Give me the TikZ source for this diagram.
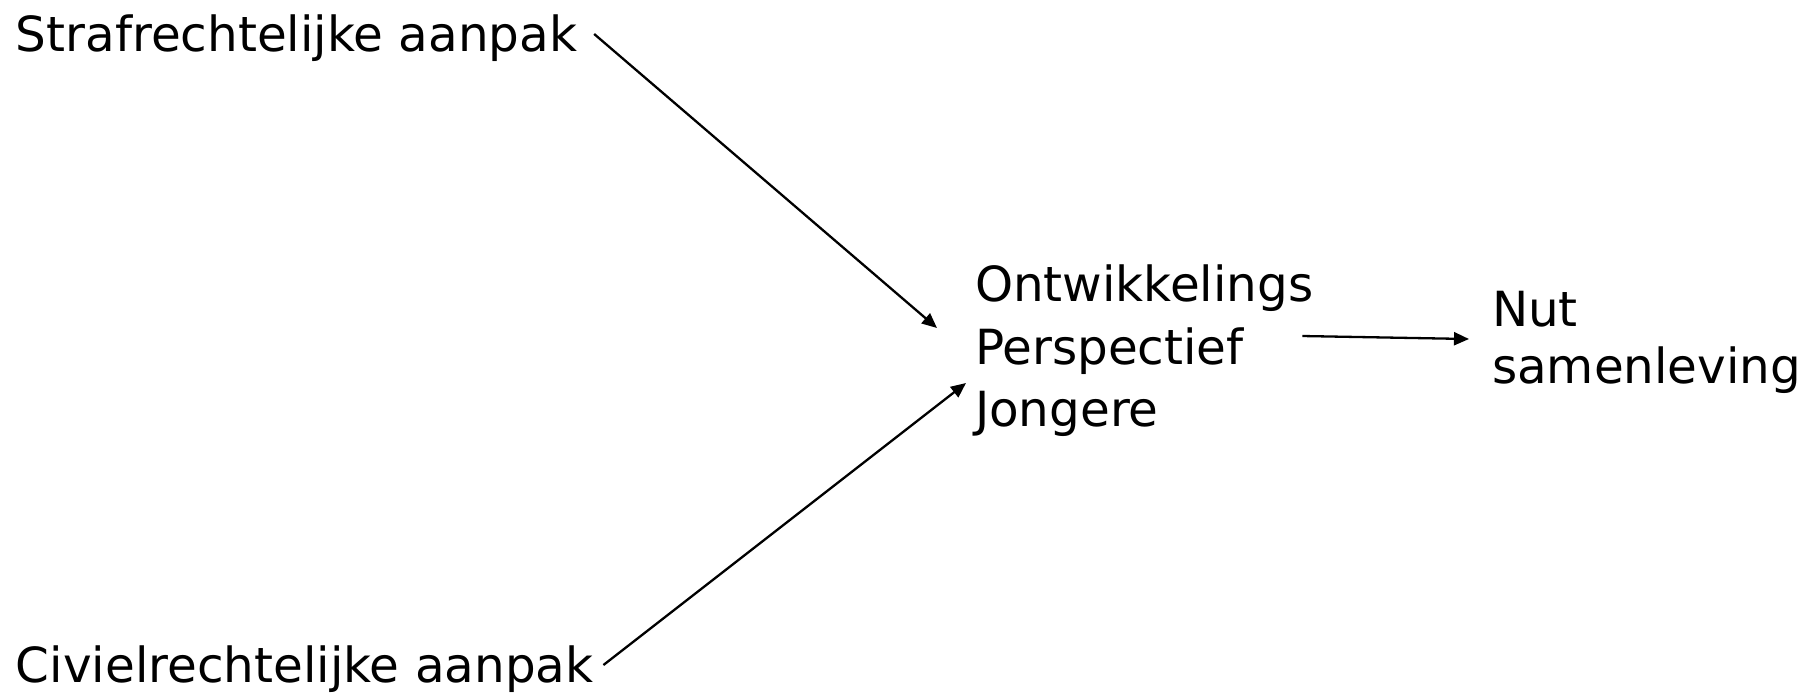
\documentclass[tikz,border=0pt]{standalone}
\usepackage{fontspec}
\setmainfont{DejaVu Sans}
\usetikzlibrary{arrows.meta}
\begin{document}
\begin{tikzpicture}[x=0.5pt,y=-0.5pt,
  lbl/.style={inner sep=0pt,outer sep=0pt,anchor=base west,align=left,
    font={\fontsize{24.2pt}{31.25pt}\selectfont}},
  conn/.style={line width=1.15pt,-{Triangle[length=7.5pt,width=6.5pt]}}]
\useasboundingbox[fill=white] (0,0) rectangle (1814,693);
\node[lbl] (sa) at (16,51) {Strafrechtelijke aanpak};
\node[lbl] (ca) at (16,682) {Civielrechtelijke aanpak};
\node[lbl,anchor=north west] (ojp) at (975,265) {Ontwikkelings\\Perspectief\\Jongere};
\node[lbl,anchor=north west,font={\fontsize{24.2pt}{28.5pt}\selectfont}] (nut) at (1492,291.7) {Nut\\samenleving};
\draw[conn] ([shift={(17,-17)}]sa.base east) -- ([shift={(-38,63)}]ojp.north west);
\draw[conn] ([shift={(10,-17)}]ca.base east) -- ([shift={(-9,118)}]ojp.north west);
\draw[conn] ([shift={(-11,71)}]ojp.north east) -- ([shift={(-23,47.3)}]nut.north west);
\end{tikzpicture}
\end{document}
